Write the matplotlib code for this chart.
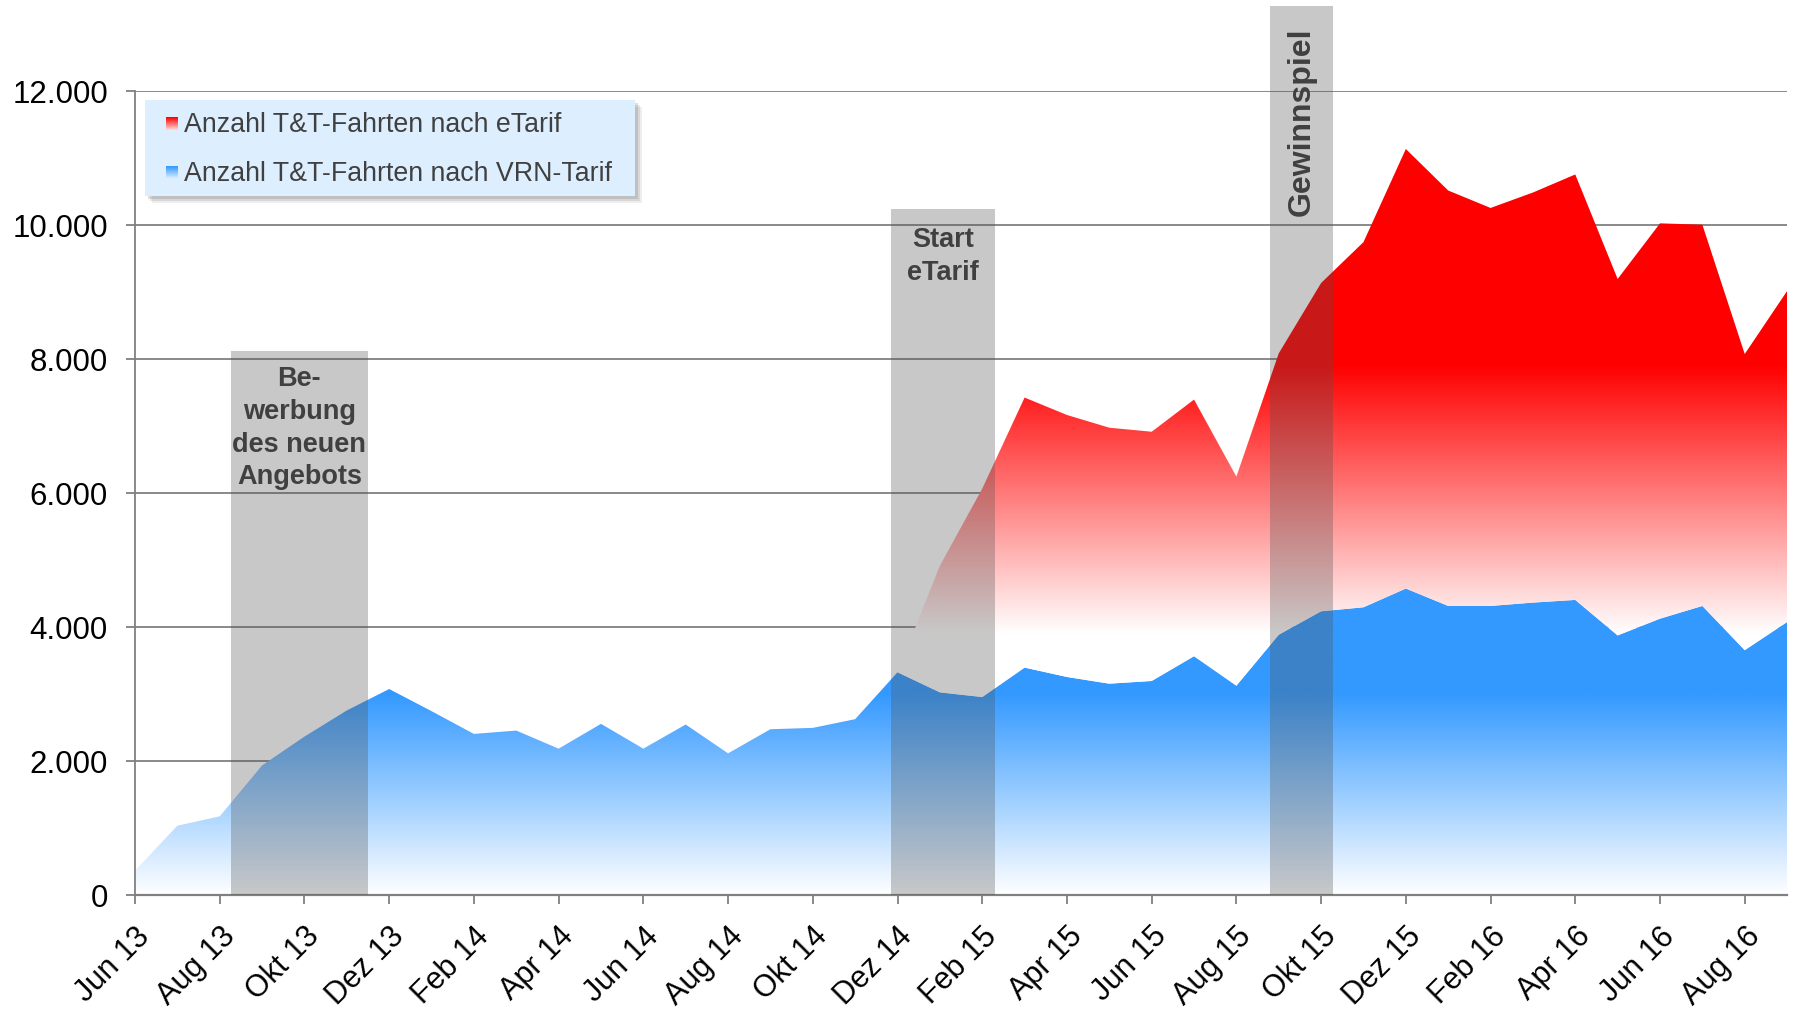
import numpy as np
import matplotlib
matplotlib.use("Agg")
import matplotlib.pyplot as plt
from matplotlib.patches import Rectangle
from matplotlib.ticker import FuncFormatter
from matplotlib.colors import to_rgb

plt.rcParams['font.family'] = ['Liberation Sans', 'DejaVu Sans']

# monthly data Jun 13 .. Sep 16
month_names = ['Jun', 'Jul', 'Aug', 'Sep', 'Okt', 'Nov', 'Dez', 'Jan', 'Feb', 'Mär', 'Apr', 'Mai']
months = []
for i in range(40):
    m = (5 + i) % 12
    yr = 13 + (5 + i) // 12
    months.append(f"{month_names[(m - 5) % 12]} {yr}")

vrn_tarif = [360, 1030, 1170, 1930, 2360, 2750, 3070, 2740, 2400, 2450,
             2180, 2550, 2180, 2540, 2110, 2470, 2490, 2620, 3320, 3020,
             2950, 3390, 3250, 3150, 3190, 3560, 3120, 3880, 4230, 4290,
             4570, 4310, 4310, 4360, 4400, 3870, 4120, 4310, 3650, 4070]
e_tarif = [0, 0, 0, 0, 0, 0, 0, 0, 0, 0,
           0, 0, 0, 0, 0, 0, 0, 0, 0, 1890,
           3110, 4030, 3910, 3820, 3720, 3830, 3120, 4200, 4900, 5450,
           6560, 6200, 5940, 6120, 6350, 5320, 5900, 5690, 4420, 4940]

# highlighted periods (start, end in month index, height) and their labels
periods = [(2.27, 5.49, 8110), (17.85, 20.29, 10234), (26.8, 28.28, 13270)]
period_labels = ['Be-\nwerbung\ndes neuen\nAngebots', 'Start\neTarif', 'Gewinnspiel']

RED = '#ff0000'
BLUE = '#3399ff'
TXT = '#404040'
GRID = '#808080'


def gradient_area(ax, x, lower, upper, color, y_white, y_full, z):
    poly = ax.fill_between(x, lower, upper, facecolor='none', edgecolor='none', zorder=z)
    ys = np.linspace(0, 13000, 800)
    t = np.clip((ys - y_white) / (y_full - y_white), 0, 1)
    rgb = np.array(to_rgb(color))
    img = (1 - t)[:, None] + t[:, None] * rgb[None, :]
    im = ax.imshow(img[:, None, :], extent=[x[0], x[-1], 0, 13000], origin='lower',
                   aspect='auto', zorder=z, interpolation='bilinear')
    im.set_clip_path(poly.get_paths()[0], transform=ax.transData)
    return im


fig = plt.figure(figsize=(17.93, 10.12), dpi=100)
ax = fig.add_axes([0.0753, 0.1149, 0.9214, 0.7945])

x = np.arange(len(months))
blue = np.array(vrn_tarif, dtype=float)
total = blue + np.array(e_tarif, dtype=float)

gradient_area(ax, x, np.zeros_like(blue), blue, BLUE, 0, 3000, 2)
gradient_area(ax, x, blue, total, RED, 3900, 7900, 2)

# grey highlight bars
for (x0, x1, h), lab in zip(periods, period_labels):
    ax.bar(x0, h, width=x1 - x0, align='edge', color='#505050', alpha=0.31,
           zorder=3, clip_on=False, linewidth=0)

ax.text(3.88, 7900, period_labels[0], ha='center', va='top', fontsize=19.5,
        fontweight='bold', color=TXT, linespacing=1.33, zorder=4)
ax.text(19.07, 9980, period_labels[1], ha='center', va='top', fontsize=19.5,
        fontweight='bold', color=TXT, linespacing=1.33, zorder=4)
ax.text(27.54, 12960, period_labels[2], ha='center', va='top', fontsize=23,
        fontweight='bold', color=TXT, rotation=90, zorder=4, clip_on=False)

ax.set_xlim(0, 39)
ax.set_ylim(0, 12000)
ax.set_axisbelow(True)
ax.yaxis.grid(True, color=GRID, linewidth=1.3)

ax.set_yticks(range(0, 12001, 2000))
ax.yaxis.set_major_formatter(FuncFormatter(lambda v, p: f"{v:,.0f}".replace(",", ".")))
ax.set_xticks(x[::2])
ax.set_xticklabels(months[::2], rotation=45, ha='right', va='top', rotation_mode='anchor')

ax.tick_params(axis='y', length=6.5, width=1.3, color=GRID, pad=13, labelsize=22.5)
ax.tick_params(axis='x', length=6.5, width=1.3, color=GRID, pad=12, labelsize=22)

for s in ['top', 'right']:
    ax.spines[s].set_visible(False)
ax.spines['left'].set_color(GRID)
ax.spines['left'].set_linewidth(1.3)
ax.spines['bottom'].set_color(GRID)
ax.spines['bottom'].set_linewidth(1.6)

# legend box with soft shadow
lx, ly, lw, lh = 0.0809, 0.8056, 0.273, 0.095
for k, a in zip([7, 5, 3], [0.10, 0.15, 0.2]):
    fig.patches.append(Rectangle((lx + k / 1793, ly - k / 1012), lw, lh,
                                 transform=fig.transFigure, facecolor='#606060',
                                 alpha=a, edgecolor='none', zorder=5))
lax = fig.add_axes([lx, ly, lw, lh], zorder=6)
lax.set_facecolor('#ddeeff')
lax.set_xticks([])
lax.set_yticks([])
for s in lax.spines.values():
    s.set_visible(False)

legend_labels = ['Anzahl T&T-Fahrten nach eTarif', 'Anzahl T&T-Fahrten nach VRN-Tarif']
legend_colors = [RED, BLUE]
for yc, lab, col in zip([0.745, 0.235], legend_labels, legend_colors):
    rgb = np.array(to_rgb(col))
    t = np.linspace(0.15, 1, 20)
    img = (1 - t)[:, None] + t[:, None] * rgb[None, :]
    lax.imshow(img[:, None, :], extent=[0.043, 0.067, yc - 0.065, yc + 0.065],
               origin='lower', aspect='auto', interpolation='bilinear')
    lax.text(0.079, yc, lab, ha='left', va='center', fontsize=19.3, color=TXT)
lax.set_xlim(0, 1)
lax.set_ylim(0, 1)

fig.savefig('out.png', dpi=100)
